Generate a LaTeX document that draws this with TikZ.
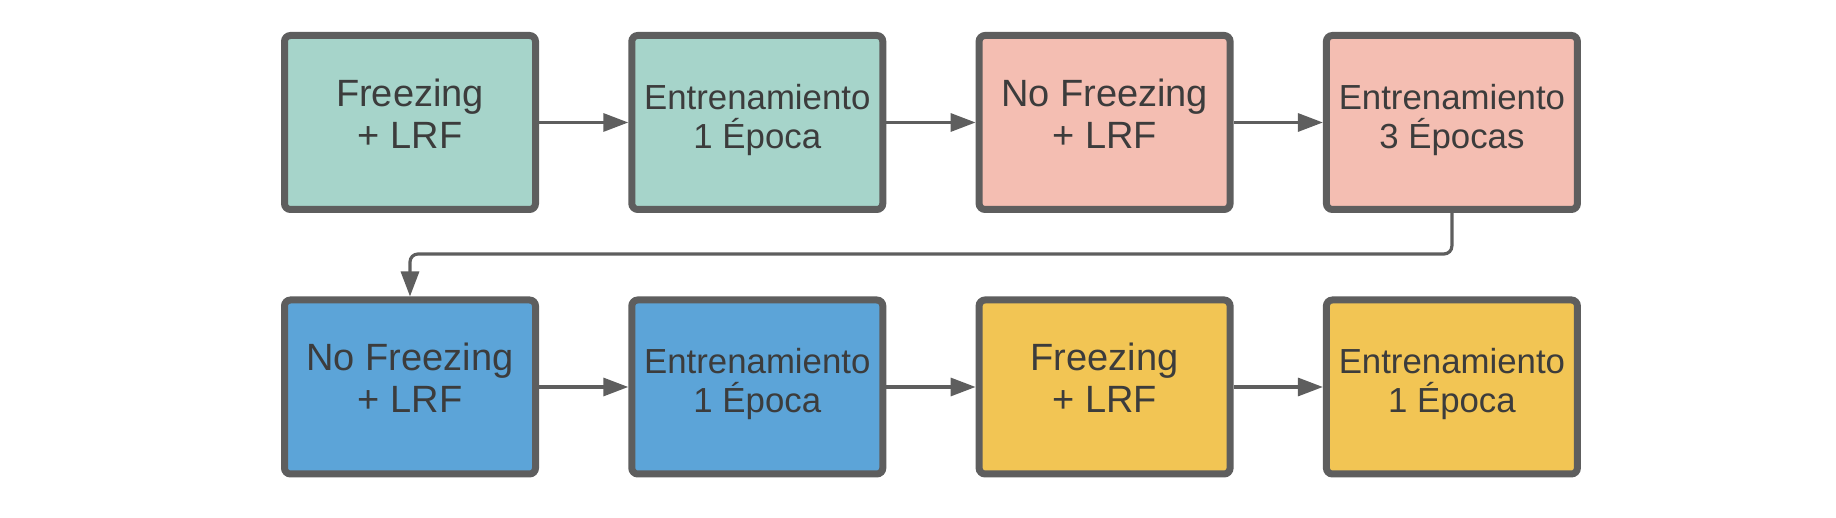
\documentclass[tikz,border=0pt]{standalone}
\usepackage{fontspec}
\setmainfont{Liberation Sans}
\usetikzlibrary{positioning,arrows.meta}
\definecolor{boxgreen}{HTML}{A6D4CA}
\definecolor{boxpink}{HTML}{F4BEB2}
\definecolor{boxblue}{HTML}{5CA4D8}
\definecolor{boxyellow}{HTML}{F2C554}
\definecolor{linegray}{HTML}{5E5E5E}
\definecolor{textgray}{HTML}{3C3C3C}

\begin{document}
\begin{tikzpicture}[box/.style={draw=linegray,line width=3.5pt,rounded corners=3pt,
    minimum width=125.5pt,minimum height=87pt,align=center,text=textgray,
    font=\fontsize{17.4}{19.5}\selectfont,text depth=6.5pt},
  bigtext/.style={font=\fontsize{19}{21}\selectfont,text depth=9pt},
  arr/.style={draw=linegray,line width=1.6pt,-{Triangle[length=12.5pt,width=9pt]}},
  node distance=41.75pt and 44.65pt]
\useasboundingbox (0,0) rectangle (918pt,259pt);
\node [box,bigtext,fill=boxgreen] (a) at (205pt,197.75pt) {Freezing\\+ LRF};
\node [box,fill=boxgreen,right=of a] (b) {Entrenamiento\\1 Época};
\node [box,bigtext,fill=boxpink,right=of b] (c) {No Freezing\\+ LRF};
\node [box,fill=boxpink,right=of c] (d) {Entrenamiento\\3 Épocas};
\node [box,bigtext,fill=boxblue,below=of a] (e) {No Freezing\\+ LRF};
\node [box,fill=boxblue,right=of e] (f) {Entrenamiento\\1 Época};
\node [box,bigtext,fill=boxyellow,right=of f] (g) {Freezing\\+ LRF};
\node [box,fill=boxyellow,right=of g] (h) {Entrenamiento\\1 Época};
\draw [arr] (a) -- (b);
\draw [arr] (b) -- (c);
\draw [arr] (c) -- (d);
\draw [arr,rounded corners=4pt] (d.south) -- ++(0,-20.5pt) -| (e.north);
\draw [arr] (e) -- (f);
\draw [arr] (f) -- (g);
\draw [arr] (g) -- (h);
\end{tikzpicture}
\end{document}
